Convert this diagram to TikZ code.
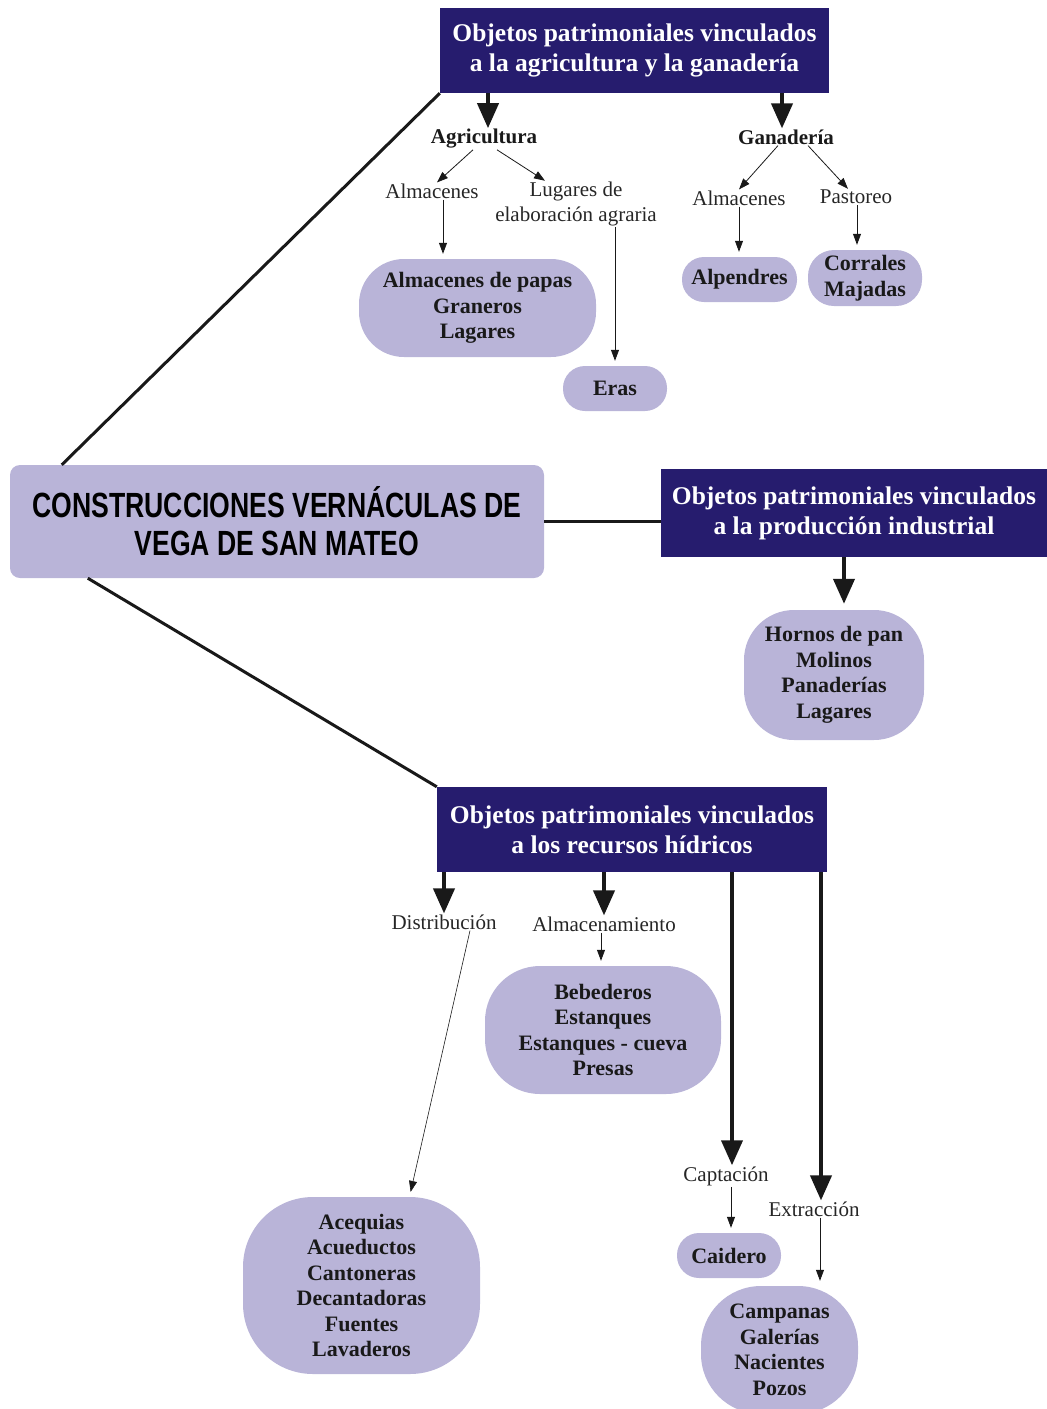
\documentclass[tikz,border=0pt]{standalone}
\usepackage{fontspec}
\setmainfont{Liberation Serif}
\newfontfamily\titlefont[FakeStretch=0.76]{Liberation Sans}
\usepackage{tikz}
\usetikzlibrary{arrows.meta,positioning}
\definecolor{darkbox}{RGB}{38,28,110}
\definecolor{lilac}{RGB}{185,180,216}
\tikzset{
  headbox/.style={fill=darkbox, text=white, align=center, inner sep=0pt, font=\fontsize{25.5}{30}\selectfont\bfseries},
  titlebox/.style={fill=lilac, rounded corners=10pt, align=center, inner sep=0pt, font=\titlefont\fontsize{35}{38}\selectfont\bfseries},
  bubble/.style={fill=lilac, align=center, inner sep=0pt, text=black!90, font=\fontsize{22}{25.5}\selectfont\bfseries},
  catlabel/.style={align=center, inner sep=1pt, text=black!90, font=\fontsize{21}{25}\selectfont\bfseries},
  sublabel/.style={align=center, inner sep=1pt, text=black!85, font=\fontsize{21}{25}\selectfont},
  bigarrow/.style={-{Triangle[length=25pt,width=21pt]}, line width=4pt, draw=black!90},
  thinarrow/.style={-{Triangle[length=11pt,width=8pt]}, line width=0.8pt, draw=black!90, shorten >=5pt},
  branch/.style={line width=3pt, draw=black!90}
}

\begin{document}
\begin{tikzpicture}[x=1pt, y=-1pt]
    \clip (0,0) rectangle (1047,1409);
    \useasboundingbox (0,0) rectangle (1047,1409);

    % main title
    \node[titlebox, minimum width=534pt, minimum height=113pt] (title) at (277,521.5) {CONSTRUCCIONES VERNÁCULAS DE\\VEGA DE SAN MATEO};

    % agriculture and livestock
    \node[headbox, minimum width=389pt, minimum height=85pt] (agro) at (634.5,50.5) {Objetos patrimoniales vinculados\\a la agricultura y la ganadería};
    \node[catlabel] (agri) at (484,139) {Agricultura};
    \node[catlabel] (gana) at (786,137) {Ganadería};
    \node[sublabel] (almA) at (432,191) {Almacenes};
    \node[sublabel] (lugares) at (576,204) {Lugares de\\elaboración agraria};
    \node[sublabel] (almG) at (739,198) {Almacenes};
    \node[sublabel] (pastoreo) at (856,197) {Pastoreo};
    \node[bubble, minimum width=237pt, minimum height=98pt, rounded corners=45pt] (papas) at (477.5,308) {Almacenes de papas\\Graneros\\Lagares};
    \node[bubble, minimum width=104pt, minimum height=45pt, rounded corners=22pt] (eras) at (615,388.5) {Eras};
    \node[bubble, minimum width=115pt, minimum height=45pt, rounded corners=22pt] (alpendres) at (739.5,279.5) {Alpendres};
    \node[bubble, minimum width=114pt, minimum height=56pt, rounded corners=26pt] (corrales) at (865,278) {Corrales\\Majadas};

    % industrial production
    \node[headbox, minimum width=386pt, minimum height=88pt] (indus) at (854,513) {Objetos patrimoniales vinculados\\a la producción industrial};
    \node[bubble, minimum width=180pt, minimum height=130pt, rounded corners=50pt] (hornos) at (834,675) {Hornos de pan\\Molinos\\Panaderías\\Lagares};

    % water resources
    \node[headbox, minimum width=390pt, minimum height=85pt] (hydro) at (632,829.5) {Objetos patrimoniales vinculados\\a los recursos hídricos};
    \node[sublabel] (distrib) at (444,922) {Distribución};
    \node[sublabel] (almacen) at (604,924) {Almacenamiento};
    \node[sublabel] (captacion) at (726,1176) {Captación};
    \node[sublabel] (extraccion) at (814,1209) {Extracción};
    \node[bubble, minimum width=236pt, minimum height=128pt, rounded corners=55pt] (bebederos) at (603,1030) {Bebederos\\Estanques\\Estanques - cueva\\Presas};
    \node[bubble, minimum width=237pt, minimum height=177pt, rounded corners=70pt] (acequias) at (361.5,1285.5) {Acequias\\Acueductos\\Cantoneras\\Decantadoras\\Fuentes\\Lavaderos};
    \node[bubble, minimum width=104pt, minimum height=45pt, rounded corners=22pt] (caidero) at (729,1255.5) {Caidero};
    \node[bubble, minimum width=157pt, minimum height=128pt, rounded corners=60pt] (campanas) at (779.5,1350) {Campanas\\Galerías\\Nacientes\\Pozos};

    % branches from the title
    \draw[branch] ([xshift=52pt]title.north west) -- (agro.south west);
    \draw[branch] (title.east) -- (title.east -| indus.west);
    \draw[branch] ([xshift=78pt]title.south west) -- (hydro.north west);

    % agriculture and livestock
    \draw[bigarrow] ([xshift=4pt]agro.south -| agri.north) -- ([xshift=4pt]agri.north);
    \draw[bigarrow] ([xshift=-4pt]agro.south -| gana.north) -- ([xshift=-4pt]gana.north);
    \draw[thinarrow, shorten >=0pt] ([xshift=-11pt]agri.south) -- ([xshift=5pt]almA.north);
    \draw[thinarrow, shorten >=0pt] ([xshift=13pt]agri.south) -- ([xshift=-31pt]lugares.north);
    \draw[thinarrow] ([xshift=11pt]almA.south) -- ([xshift=11pt]almA.south |- papas.north);
    \draw[thinarrow] (eras.north |- lugares.south) -- (eras.north);
    \draw[thinarrow, shorten >=0pt] ([xshift=-8pt]gana.south) -- (almG.north);
    \draw[thinarrow, shorten >=0pt] ([xshift=22pt]gana.south) -- ([xshift=-8pt]pastoreo.north);
    \draw[thinarrow] (almG.south) -- (almG.south |- alpendres.north);
    \draw[thinarrow] ([xshift=1pt]pastoreo.south) -- ([xshift=1pt]pastoreo.south |- corrales.north);

    % industrial production
    \draw[bigarrow, shorten >=6pt] ([xshift=-10pt]indus.south) -- ([xshift=-10pt]indus.south |- hornos.north);

    % water resources
    \draw[bigarrow] (distrib.north |- hydro.south) -- (distrib.north);
    \draw[bigarrow] (almacen.north |- hydro.south) -- (almacen.north);
    \draw[bigarrow] ([xshift=6pt]captacion.north |- hydro.south) -- ([xshift=6pt]captacion.north);
    \draw[bigarrow] ([xshift=7pt]extraccion.north |- hydro.south) -- ([xshift=7pt]extraccion.north);
    \draw[thinarrow, line width=0.6pt] ([xshift=26pt]distrib.south) -- ([xshift=48pt]acequias.north);
    \draw[thinarrow] ([xshift=-3pt]almacen.south) -- ([xshift=-3pt]almacen.south |- bebederos.north);
    \draw[thinarrow] ([xshift=5pt]captacion.south) -- ([xshift=5pt]captacion.south |- caidero.north);
    \draw[thinarrow] ([xshift=6pt]extraccion.south) -- ([xshift=6pt]extraccion.south |- campanas.north);
\end{tikzpicture}
\end{document}
